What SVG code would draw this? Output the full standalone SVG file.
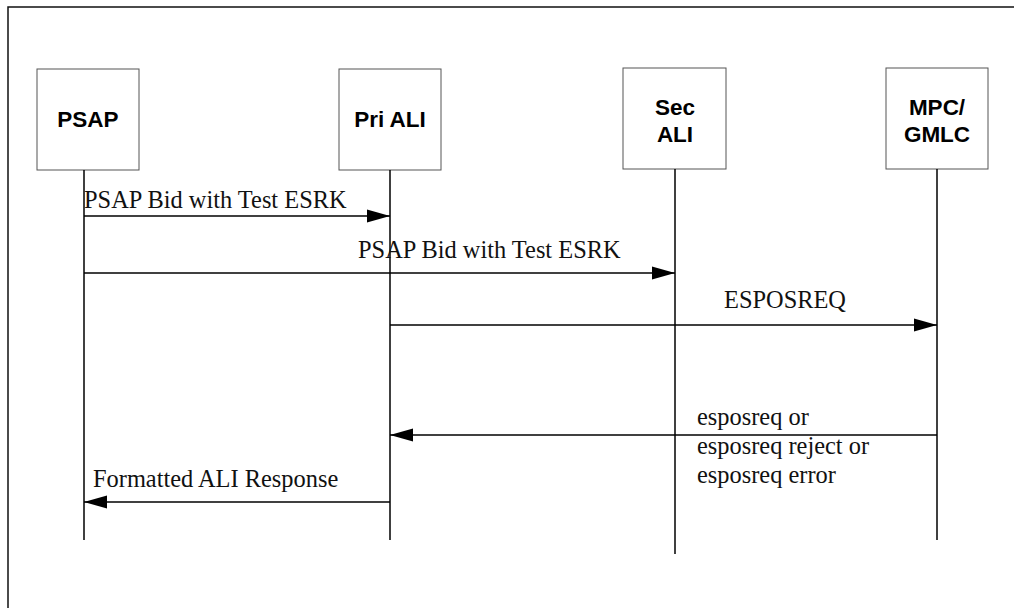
<svg xmlns="http://www.w3.org/2000/svg" width="1014" height="608" viewBox="0 0 1014 608">
  <style>
    .frame { fill: none; stroke: #111; stroke-width: 1.5; }
    .box { fill: #fff; stroke: #555; stroke-width: 1; }
    .life { stroke: #000; stroke-width: 1.5; }
    .msg { stroke: #000; stroke-width: 1.5; fill: none; }
    .name { font-family: "Liberation Sans", Arial, sans-serif; font-weight: bold; font-size: 22.5px; fill: #000; text-anchor: middle; }
    .lbl { font-family: "Liberation Serif", "Times New Roman", serif; font-size: 24.4px; fill: #111; }
  </style>
  <defs>
    <marker id="head" markerUnits="userSpaceOnUse" markerWidth="23" markerHeight="14" refX="23" refY="7" orient="auto">
      <path d="M0,0.5 L23,7 L0,13.5 Z" fill="#000"/>
    </marker>
  </defs>

  <rect width="1014" height="608" fill="#fff"/>
  <!-- outer frame, open past the right and bottom edges -->
  <rect class="frame" x="8" y="7" width="1020" height="620"/>

  <g id="psap">
    <rect class="box" x="37" y="69" width="102" height="101"/>
    <text class="name" x="88" y="127">PSAP</text>
    <line class="life" x1="84" y1="170" x2="84" y2="540"/>
  </g>
  <g id="pri-ali">
    <rect class="box" x="339" y="69" width="102" height="101"/>
    <text class="name" x="390" y="127">Pri ALI</text>
    <line class="life" x1="390" y1="170" x2="390" y2="540"/>
  </g>
  <g id="sec-ali">
    <rect class="box" x="623" y="68" width="103" height="101"/>
    <text class="name" x="675" y="115">Sec</text>
    <text class="name" x="675" y="142">ALI</text>
    <line class="life" x1="675" y1="169" x2="675" y2="554"/>
  </g>
  <g id="mpc-gmlc">
    <rect class="box" x="886" y="68" width="102" height="101"/>
    <text class="name" x="937" y="115">MPC/</text>
    <text class="name" x="937" y="142">GMLC</text>
    <line class="life" x1="937" y1="169" x2="937" y2="540"/>
  </g>

  <g id="connectors">
    <line class="msg" x1="84" y1="216" x2="390" y2="216" marker-end="url(#head)"/>
    <line class="msg" x1="84" y1="273" x2="675" y2="273" marker-end="url(#head)"/>
    <line class="msg" x1="390" y1="325" x2="937" y2="325" marker-end="url(#head)"/>
    <line class="msg" x1="937" y1="435" x2="390" y2="435" marker-end="url(#head)"/>
    <line class="msg" x1="390" y1="502" x2="84" y2="502" marker-end="url(#head)"/>

    <text class="lbl" x="84" y="208">PSAP Bid with Test ESRK</text>
    <text class="lbl" x="358" y="258">PSAP Bid with Test ESRK</text>
    <text class="lbl" x="724" y="308">ESPOSREQ</text>
    <text class="lbl" x="697" y="425">esposreq or</text>
    <text class="lbl" x="697" y="454">esposreq reject or</text>
    <text class="lbl" x="697" y="483">esposreq error</text>
    <text class="lbl" x="93" y="487">Formatted ALI Response</text>
  </g>
</svg>
